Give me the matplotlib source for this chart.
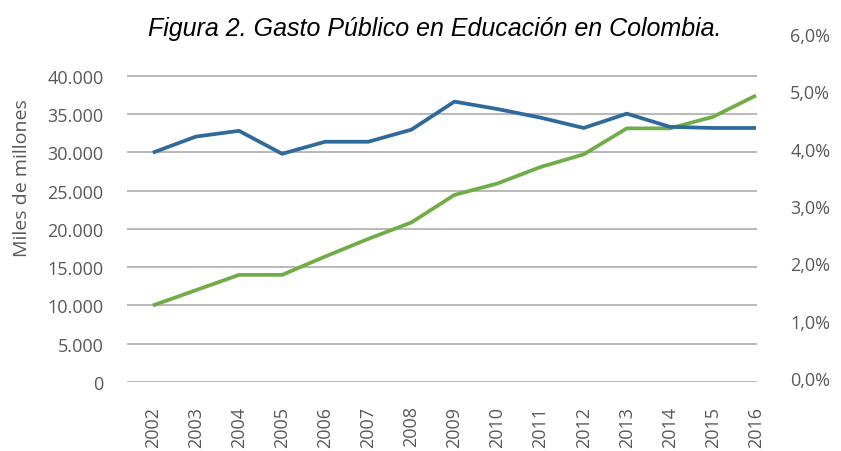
import matplotlib
matplotlib.use("Agg")
import matplotlib.pyplot as plt
import numpy as np

years = [2002, 2003, 2004, 2005, 2006, 2007, 2008, 2009,
         2010, 2011, 2012, 2013, 2014, 2015, 2016]
# miles de millones (eje izquierdo)
gasto = [10000, 12000, 14000, 14000, 16400, 18700, 20850, 24450,
         25950, 28100, 29750, 33150, 33150, 34650, 37450]
# % del PIB (eje derecho)
pct_pib = [3.93, 4.21, 4.31, 3.91, 4.12, 4.12, 4.33, 4.82,
           4.69, 4.54, 4.36, 4.61, 4.38, 4.36, 4.36]

left_ticks = np.arange(0, 40001, 5000)
right_ticks = np.arange(0, 6.01, 1.0)

blue = '#2E6A9C'
green = '#70AD47'
grey = '#595959'
tick_font = 'Open Sans'

fig = plt.figure(figsize=(8.41, 4.52), dpi=100)
ax = fig.add_axes([0.151, 0.1527, 0.749, 0.770])
ax2 = ax.twinx()

ax.plot(years, gasto, color=green, lw=2.7, solid_capstyle='butt', zorder=3)
ax2.plot(years, pct_pib, color=blue, lw=2.7, solid_capstyle='butt', zorder=3)

ax.set_xlim(2001.4, 2016.02)
ax.set_ylim(0, 45490)
ax2.set_ylim(-0.07, 6.0)

for y in left_ticks:
    ax.axhline(y, color='#ADADAD', lw=1.2, zorder=1)

ax.set_yticks(left_ticks)
ax.set_yticklabels(['0' if v == 0 else f'{v:,}'.replace(',', '.') for v in left_ticks],
                   fontsize=13, color=grey, family=tick_font)
ax2.set_yticks(right_ticks)
ax2.set_yticklabels([f'{v:.1f}%'.replace('.', ',') for v in right_ticks],
                    fontsize=13, color=grey, family=tick_font)
ax.set_xticks(years)
ax.set_xticklabels([str(y) for y in years], rotation=90, fontsize=13,
                   color=grey, family=tick_font)

ax.tick_params(axis='y', length=0, pad=17)
ax2.tick_params(axis='y', length=0, pad=24)
ax.tick_params(axis='x', length=0, pad=17)
for a in (ax, ax2):
    for s in a.spines.values():
        s.set_visible(False)

fig.text(22 / 841, 1 - 178 / 452, 'Miles de millones', rotation=90,
         ha='center', va='center', fontsize=14, color=grey, family=tick_font)
fig.text(435 / 841, 1 - 29 / 452, 'Figura 2. Gasto Público en Educación en Colombia.',
         ha='center', va='center', fontsize=18, style='italic',
         family='Liberation Sans', color='black')

fig.savefig('out.png', dpi=100)
